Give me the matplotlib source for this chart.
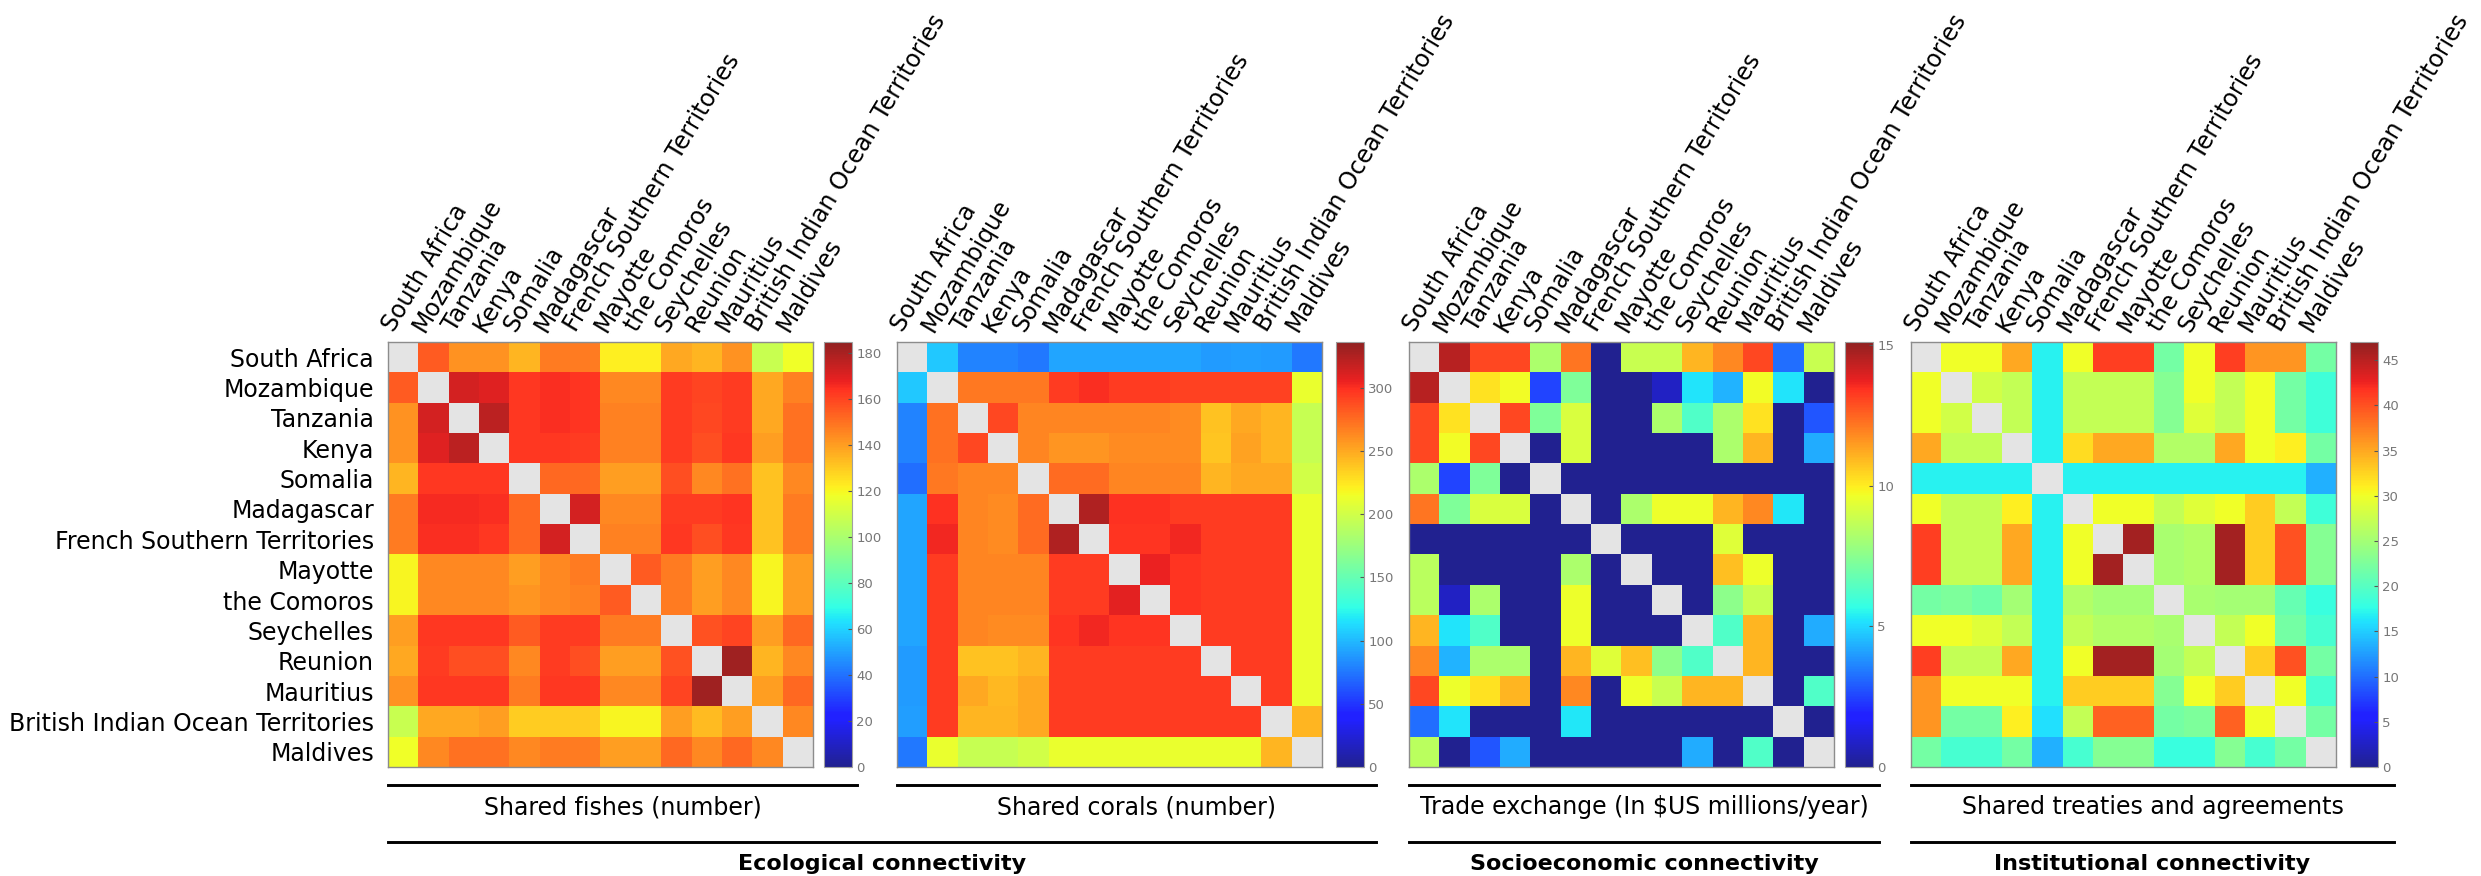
import numpy as np
import matplotlib
matplotlib.use('Agg')
import matplotlib.pyplot as plt
from matplotlib.lines import Line2D
from matplotlib.colors import ListedColormap
import matplotlib.transforms as mtransforms

countries = ['South Africa', 'Mozambique', 'Tanzania', 'Kenya', 'Somalia', 'Madagascar',
	'French Southern Territories', 'Mayotte', 'the Comoros', 'Seychelles', 'Reunion',
	'Mauritius', 'British Indian Ocean Territories', 'Maldives']

# diagonal entries are masked (drawn grey)
shared_fishes = [
	[0, 155, 143, 143, 135, 148, 148, 122, 122, 138, 135, 143, 108, 118],
	[155, 0, 172, 170, 163, 165, 164, 145, 145, 162, 160, 162, 138, 146],
	[143, 172, 0, 177, 163, 165, 164, 146, 146, 162, 159, 162, 138, 150],
	[143, 170, 177, 0, 163, 163, 162, 146, 146, 162, 158, 163, 140, 150],
	[135, 163, 163, 163, 0, 152, 152, 140, 140, 158, 145, 150, 132, 145],
	[148, 166, 166, 165, 152, 0, 172, 145, 145, 162, 162, 164, 132, 148],
	[148, 165, 165, 163, 152, 172, 0, 146, 146, 163, 158, 163, 132, 148],
	[120, 145, 145, 145, 140, 145, 148, 0, 155, 148, 140, 145, 120, 140],
	[120, 145, 145, 145, 142, 145, 146, 155, 0, 148, 140, 145, 120, 140],
	[140, 163, 163, 163, 155, 162, 162, 148, 148, 0, 157, 160, 140, 152],
	[138, 162, 158, 158, 145, 162, 158, 140, 140, 157, 0, 182, 135, 145],
	[143, 163, 163, 163, 148, 163, 163, 145, 145, 160, 182, 0, 140, 152],
	[108, 138, 138, 140, 130, 130, 130, 120, 120, 140, 133, 140, 0, 145],
	[118, 145, 150, 150, 145, 148, 148, 140, 140, 152, 145, 152, 145, 0]]

shared_corals = [
	[0, 105, 80, 80, 75, 92, 92, 92, 92, 92, 88, 90, 88, 75],
	[105, 0, 270, 270, 270, 295, 300, 295, 295, 292, 292, 292, 292, 212],
	[80, 272, 0, 290, 265, 265, 265, 265, 265, 262, 240, 250, 245, 195],
	[80, 272, 290, 0, 265, 258, 258, 262, 262, 262, 238, 252, 245, 195],
	[72, 270, 265, 265, 0, 275, 275, 265, 265, 265, 245, 250, 250, 200],
	[92, 298, 265, 262, 275, 0, 325, 298, 298, 295, 295, 295, 295, 212],
	[92, 303, 265, 262, 275, 325, 0, 297, 297, 302, 295, 295, 295, 212],
	[92, 295, 265, 265, 265, 295, 295, 0, 305, 297, 295, 295, 295, 212],
	[92, 295, 265, 265, 265, 295, 295, 308, 0, 297, 295, 295, 295, 212],
	[92, 295, 265, 262, 262, 297, 302, 297, 297, 0, 295, 295, 295, 212],
	[88, 295, 240, 240, 245, 295, 295, 295, 295, 295, 0, 295, 295, 212],
	[88, 295, 250, 243, 250, 295, 295, 295, 295, 295, 295, 0, 295, 212],
	[90, 295, 245, 245, 250, 295, 295, 295, 295, 295, 295, 295, 0, 245],
	[75, 212, 195, 195, 200, 212, 212, 212, 212, 212, 212, 212, 245, 0]]

trade_exchange = [
	[0, 14.5, 13, 13, 8.2, 12.2, 0, 8.8, 8.8, 11, 11.8, 13, 3.2, 8.8],
	[14.5, 0, 10.2, 9.7, 2.5, 7.3, 0, 0, 0.8, 5.2, 4.4, 9.7, 5.2, 0],
	[13, 10.2, 0, 13, 7.3, 9.2, 0, 0, 8.2, 6.3, 8.2, 10.2, 0, 2.8],
	[13, 9.7, 13, 0, 0, 9.2, 0, 0, 0, 0, 8.2, 11, 0, 4.3],
	[8.2, 2.5, 7.3, 0, 0, 0, 0, 0, 0, 0, 0, 0, 0, 0],
	[12.2, 7.3, 9.2, 9.2, 0, 0, 0, 8.2, 9.6, 9.6, 11, 11.8, 5.3, 0],
	[0, 0, 0, 0, 0, 0, 0, 0, 0, 0, 9.3, 0, 0, 0],
	[8.5, 0, 0, 0, 0, 8.2, 0, 0, 0, 0, 10.8, 9.6, 0, 0],
	[8.5, 0.8, 8.2, 0, 0, 9.6, 0, 0, 0, 0, 7.6, 8.8, 0, 0],
	[11, 5.2, 6.3, 0, 0, 9.6, 0, 0, 0, 0, 6.3, 11, 0, 4.3],
	[11.8, 4.4, 8.2, 8.2, 0, 11, 9.3, 10.8, 7.6, 6.3, 0, 11, 0, 0],
	[13, 9.6, 10.2, 11, 0, 11.8, 0, 9.6, 8.8, 11, 11, 0, 0, 6.3],
	[3.2, 5.2, 0, 0, 0, 5.3, 0, 0, 0, 0, 0, 0, 0, 0],
	[8.5, 0, 2.8, 4.3, 0, 0, 0, 0, 0, 4.3, 0, 6.3, 0, 0]]

shared_treaties = [
	[0, 30, 30, 35, 17, 30, 41, 41, 22, 30, 41, 36, 36, 22],
	[30, 0, 28, 27, 17, 27, 27, 27, 23, 30, 27, 30, 22, 18.5],
	[30, 28, 0, 27, 17, 27, 27, 27, 23, 29, 27, 30, 22, 18.5],
	[35, 27, 27, 0, 17, 32, 35, 35, 26, 26, 35, 30, 31, 22],
	[17, 17, 17, 17, 0, 17, 17, 17, 17, 17, 17, 17, 17, 13.5],
	[30, 27, 27, 31, 17, 0, 30, 30, 27, 29, 30, 33, 27, 18.5],
	[41, 27, 27, 35, 17, 30, 0, 46, 25.5, 26, 46, 33, 40, 23],
	[41, 27, 27, 35, 17, 30, 46, 0, 25.5, 26, 46, 33, 40, 23],
	[22, 22.5, 21.5, 25, 17, 26, 25, 25, 0, 25.5, 25, 25, 21, 18],
	[30, 30, 29, 27, 17, 27, 26, 26, 25.5, 0, 27, 30, 22, 19],
	[41, 27, 27, 35, 17, 30, 46, 46, 25, 27, 0, 33, 40, 22],
	[36, 30, 30, 30, 17, 33, 33, 33, 23, 30, 33, 0, 30, 19],
	[36, 22, 22, 31, 16, 27, 39, 39, 22, 22.5, 39, 30, 0, 22],
	[22, 19, 19, 22, 13.5, 19, 23, 23, 18, 18, 23, 19, 22, 0]]

subtitles = ['Shared fishes (number)', 'Shared corals (number)',
	'Trade exchange (In $US millions/year)', 'Shared treaties and agreements']
color_max = [185, 336, 15.1, 47]
color_ticks = [np.arange(0, 181, 20), np.arange(0, 301, 50), [0, 5, 10, 15], np.arange(0, 46, 5)]

groups = ['Ecological connectivity', 'Socioeconomic connectivity', 'Institutional connectivity']

# layout in pixels of the output image
W, H = 2481, 876
heat_left = [388, 897, 1409, 1911]
cbar_left = [824, 1336, 1845, 2350]
line_right = [857, 1376, 1879, 2394]
heat_top = 342
heat_size = 425
cbar_w = 28
group_span = [(388, 1376), (1409, 1879), (1911, 2394)]

def fig_box(x0, y0, w, h):
	return [x0 / W, 1 - (y0 + h) / H, w / W, h / H]

def hline(x0, x1, y):
	fig.add_artist(Line2D([x0 / W, x1 / W], [1 - y / H, 1 - y / H],
		transform=fig.transFigure, color='black', lw=2.1))

# jet, a little washed out like the printed figure
jet = plt.get_cmap('jet')(np.linspace(0, 1, 256))
jet[:, :3] = 0.87 * jet[:, :3] + 0.13
cmap = ListedColormap(jet)
cmap.set_bad('#e4e4e4')

fig = plt.figure(figsize=(W / 100, H / 100), dpi=100)
matrices = [shared_fishes, shared_corals, trade_exchange, shared_treaties]
n = len(countries)

for k in range(4):
	data = np.array(matrices[k], dtype=float)
	data = np.ma.masked_where(np.eye(n, dtype=bool), data)
	ax = fig.add_axes(fig_box(heat_left[k], heat_top, heat_size, heat_size))
	im = ax.imshow(data, cmap=cmap, vmin=0, vmax=color_max[k], aspect='auto',
		interpolation='nearest')
	for s in ax.spines.values():
		s.set_color('#8c8c8c')
		s.set_linewidth(1)
	ax.set_xticks([])
	if k == 0:
		ax.set_yticks(range(n))
		ax.set_yticklabels(countries, fontsize=17)
		ax.tick_params(axis='y', length=0, pad=10)
	else:
		ax.set_yticks([])

	# slanted country names above the columns
	trans = mtransforms.blended_transform_factory(ax.transData, fig.transFigure)
	for j in range(n):
		ax.text(j - 0.3, 1 - 333 / H, countries[j], transform=trans, rotation=59,
			rotation_mode='anchor', ha='left', va='baseline', fontsize=17)

	cax = fig.add_axes(fig_box(cbar_left[k], heat_top, cbar_w, heat_size))
	cb = fig.colorbar(im, cax=cax, ticks=color_ticks[k])
	cb.outline.set_edgecolor('#a0a0a0')
	cb.outline.set_linewidth(0.8)
	cax.tick_params(labelsize=9.5, labelcolor='#777777', color='#555555', length=3,
		width=0.8, direction='in', pad=3)

	hline(heat_left[k], line_right[k], 785)
	fig.text((heat_left[k] + line_right[k]) / 2 / W, 1 - 807 / H, subtitles[k],
		ha='center', va='center', fontsize=17)

for (x0, x1), name in zip(group_span, groups):
	hline(x0, x1, 842)
	fig.text((x0 + x1) / 2 / W, 1 - 864 / H, name, ha='center', va='center',
		fontsize=16, fontweight='bold')

fig.savefig('out.png', dpi=100)
